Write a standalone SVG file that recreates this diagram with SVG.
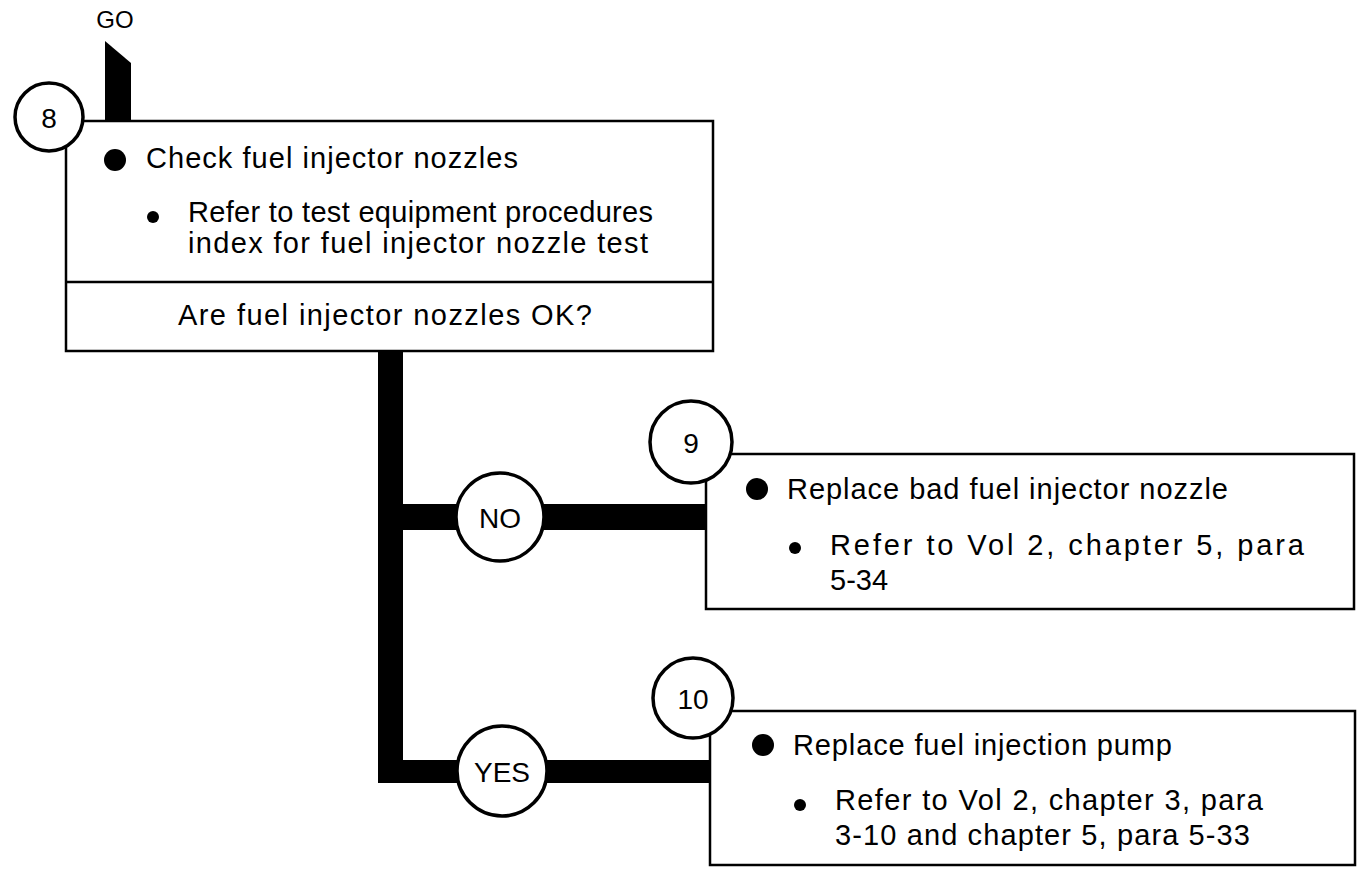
<svg xmlns="http://www.w3.org/2000/svg" width="1361" height="871" viewBox="0 0 1361 871">
<style>
  text { font-family: "Liberation Sans", Arial, sans-serif; fill: #000; }
  .box { fill: #fff; stroke: #000; stroke-width: 2.5; }
  .num { fill: #fff; stroke: #000; stroke-width: 3.5; }
  .lbl { font-size: 28px; text-anchor: middle; dominant-baseline: central; }
  .t { font-size: 29px; }
  .bar { fill: #000; }
</style>
<rect width="1361" height="871" fill="#fff"/>
<g id="connectors">
  <polygon class="bar" points="105,41 131,63 131,122 105,122"/>
  <rect class="bar" x="378" y="350" width="25" height="433"/>
  <rect class="bar" x="378" y="504" width="330" height="26"/>
  <rect class="bar" x="378" y="760" width="333" height="23"/>
</g>
<text x="115" y="28" font-size="24" text-anchor="middle">GO</text>
<g id="node-8">
  <rect class="box" x="66" y="121" width="647" height="230"/>
  <line x1="66" y1="282" x2="713" y2="282" stroke="#000" stroke-width="2.5"/>
  <circle class="num" cx="49" cy="117" r="34"/>
  <text class="lbl" x="49" y="118">8</text>
  <circle cx="115" cy="160" r="11"/>
  <text class="t" x="146" y="168" textLength="372">Check fuel injector nozzles</text>
  <circle cx="153" cy="217" r="6"/>
  <text class="t" x="188" y="222" textLength="465">Refer to test equipment procedures</text>
  <text class="t" x="188" y="253" textLength="460">index for fuel injector nozzle test</text>
  <text class="t" x="178" y="325" textLength="414">Are fuel injector nozzles OK?</text>
</g>
<g id="node-no">
  <circle class="num" cx="500" cy="517" r="44"/>
  <text class="lbl" x="500" y="518">NO</text>
</g>
<g id="node-yes">
  <circle class="num" cx="502" cy="771" r="45"/>
  <text class="lbl" x="502" y="772">YES</text>
</g>
<g id="node-9">
  <rect class="box" x="706" y="454" width="648" height="155"/>
  <circle class="num" cx="691" cy="442" r="41"/>
  <text class="lbl" x="691" y="443">9</text>
  <circle cx="757" cy="489" r="11"/>
  <text class="t" x="787" y="499" textLength="441">Replace bad fuel injector nozzle</text>
  <circle cx="795" cy="548" r="6"/>
  <text class="t" x="830" y="555" textLength="474">Refer to Vol 2, chapter 5, para</text>
  <text class="t" x="830" y="590">5-34</text>
</g>
<g id="node-10">
  <rect class="box" x="710" y="711" width="645" height="154"/>
  <circle class="num" cx="693" cy="698" r="40"/>
  <text class="lbl" x="693" y="699">10</text>
  <circle cx="763" cy="745" r="11"/>
  <text class="t" x="793" y="755" textLength="379">Replace fuel injection pump</text>
  <circle cx="800" cy="805" r="6"/>
  <text class="t" x="835" y="810" textLength="428">Refer to Vol 2, chapter 3, para</text>
  <text class="t" x="835" y="845" textLength="415">3-10 and chapter 5, para 5-33</text>
</g>
</svg>
